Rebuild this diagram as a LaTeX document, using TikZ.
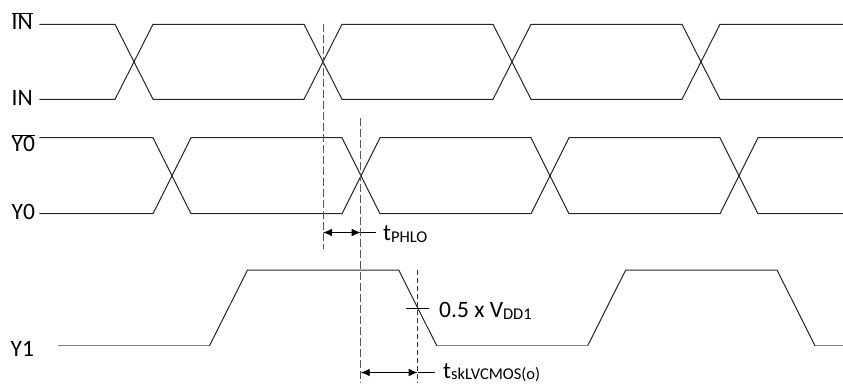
\documentclass[tikz,border=0pt]{standalone}
\usepackage{fontspec}
\setmainfont{Carlito}
\usetikzlibrary{arrows.meta}
\newcommand\ovl[1]{\ensuremath{\overline{\mbox{#1}}}}
\newcommand\subtxt[1]{\raisebox{-2pt}{\fontsize{16.5}{16.5}\selectfont #1}}
\begin{document}
\begin{tikzpicture}[x=1pt,y=-1pt,
  lbl/.style={anchor=base west,inner sep=0pt,font=\fontsize{23.5}{23.5}\selectfont},
  wave/.style={draw=black!85,line width=1pt,line join=miter},
  lowwave/.style={draw=black!50,line width=1.4pt},
  dashline/.style={draw=black!65,line width=1pt,dash pattern=on 7.5pt off 3.5pt},
  thindash/.style={draw=black!80,line width=0.75pt,dash pattern=on 5pt off 3pt},
  dimarrow/.style={draw=black,line width=0.9pt,{Latex[length=9pt,width=7.5pt]}-{Latex[length=9pt,width=7.5pt]}},
  extline/.style={draw=black,line width=0.8pt}]
\useasboundingbox (0,0) rectangle (843,383);
% labels
\node[lbl] (inb) at (11.5,29.3) {\ovl{IN}};
\node[lbl] (in) at (11.5,105) {IN};
\node[lbl] (y0b) at (11.5,151.7) {\ovl{Y0}};
\node[lbl] (y0) at (11.5,219.5) {Y0};
\node[lbl] (y1) at (10.5,356) {Y1};
% IN pair
\draw[wave] (39.3,24.3) -- (115,24.3) -- (153,99.3) -- (304,99.3) -- (342,24.3) -- (493,24.3) -- (531,99.3) -- (682,99.3) -- (720,24.3) -- (843,24.3);
\draw[wave] (39.3,99.3) -- (115,99.3) -- (153,24.3) -- (304,24.3) -- (342,99.3) -- (493,99.3) -- (531,24.3) -- (682,24.3) -- (720,99.3) -- (843,99.3);
% Y0 pair
\draw[wave] (39.3,137.7) -- (153,137.7) -- (191,213.7) -- (342,213.7) -- (380,137.7) -- (531,137.7) -- (569,213.7) -- (720,213.7) -- (758,137.7) -- (843,137.7);
\draw[wave] (39.3,213.7) -- (153,213.7) -- (191,137.7) -- (342,137.7) -- (380,213.7) -- (531,213.7) -- (569,137.7) -- (720,137.7) -- (758,213.7) -- (843,213.7);
% Y1
\draw[lowwave] (58.3,345.7) -- (209.5,345.7);
\draw[lowwave] (436.7,345.7) -- (587.7,345.7);
\draw[lowwave] (815,345.7) -- (843,345.7);
\draw[wave] (209.5,345.7) -- (247.5,270) -- (398.7,270) -- (436.7,345.7);
\draw[wave] (587.7,345.7) -- (625.7,270) -- (777,270) -- (815,345.7);
% reference coordinates
\coordinate (d1t) at (323,24);
\coordinate (d1b) at (323,249);
\coordinate (d2t) at (360.7,118.3);
\coordinate (d2b) at (360.7,383);
\coordinate (d3t) at (417.7,270);
\coordinate (d3b) at (417.7,383);
\coordinate (a1l) at (323,232.5);
\coordinate (a1r) at (360.7,232.5);
\coordinate (a1e) at (376,232.5);
\coordinate (a2l) at (360.7,372.5);
\coordinate (a2r) at (417.7,372.5);
\coordinate (a2e) at (435,372.5);
\coordinate (tkl) at (406,308);
\coordinate (tkr) at (429,308);
% dashed lines
\draw[dashline] (d1t) -- (d1b);
\draw[dashline] (d2t) -- (d2b);
\draw[thindash] (d3t) -- (d3b);
\draw[extline] (tkl) -- (tkr);
% dimension arrows
\draw[dimarrow] (a1l) -- (a1r);
\draw[extline] (a1r) -- (a1e);
\draw[dimarrow] (a2l) -- (a2r);
\draw[extline] (a2r) -- (a2e);
% annotation labels
\node[lbl] (tphlo) at (383,240.5) {t\subtxt{PHLO}};
\node[lbl] (vdd) at (439,317.3) {0.5 x V\subtxt{DD1}};
\node[lbl] (tsk) at (443,378) {t\raisebox{-1pt}{\fontsize{16.5}{16.5}\selectfont skLVCMOS(o)}};
\end{tikzpicture}
\end{document}
